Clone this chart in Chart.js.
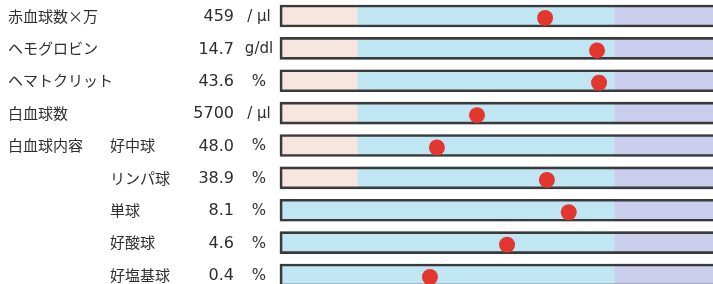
<!DOCTYPE html>
<html><head><meta charset="utf-8">
<script src="https://cdn.jsdelivr.net/npm/chart.js@4/dist/chart.umd.min.js"></script>
<style>html,body{margin:0;padding:0;background:#fff;overflow:hidden;}#wrap{width:713px;height:284px;position:relative;}</style>
</head><body><div id="wrap"><canvas id="c"></canvas></div>
<script>
// ---- data ----
const itemNames = ['赤血球数×万','ヘモグロビン','ヘマトクリット','白血球数','白血球内容','','','',''];
const subNames  = ['','','','','好中球','リンパ球','単球','好酸球','好塩基球'];
const valueTexts = ['459','14.7','43.6','5700','48.0','38.9','8.1','4.6','0.4'];
const unitTexts = ['/ μl','g/dl','%','/ μl','%','%','%','%','%'];
// position of each result on a scale where the reference (normal) range is 0..1
const positions = [0.728,0.93,0.938,0.463,0.307,0.735,0.82,0.58,0.28];
// zones: low (pink), normal (blue), high (purple)
const lowBands    = [[-0.3035,0],[-0.3035,0],[-0.3035,0],[-0.3035,0],[-0.3035,0],[-0.3035,0],null,null,null];
const normalBands = [[0,1],[0,1],[0,1],[0,1],[0,1],[0,1],[-0.3035,1],[-0.3035,1],[-0.3035,1]];
const highBands   = [[1,1.6],[1,1.6],[1,1.6],[1,1.6],[1,1.6],[1,1.6],[1,1.6],[1,1.6],[1,1.6]];
const frameBands  = [[-0.3035,1.6],[-0.3035,1.6],[-0.3035,1.6],[-0.3035,1.6],[-0.3035,1.6],[-0.3035,1.6],[-0.3035,1.6],[-0.3035,1.6],[-0.3035,1.6]];

const rows = valueTexts.map((_, i) => i);
const toBars = bands => bands.map((b, i) => b ? {x: b, y: i} : null).filter(d => d);

const textPlugin = {
  id: 'rowText',
  afterDraw(chart) {
    const ctx = chart.ctx, ys = chart.scales.y;
    ctx.save();
    ctx.fillStyle = '#2e2e2e';
    ctx.textBaseline = 'middle';
    rows.forEach(i => {
      const y = ys.getPixelForValue(i);
      ctx.font = '15px "Noto Sans CJK JP", sans-serif';
      ctx.textAlign = 'left';
      if (itemNames[i]) ctx.fillText(itemNames[i], 8, y);
      if (subNames[i]) ctx.fillText(subNames[i], 110, y);
      ctx.font = '16px "DejaVu Sans", "Noto Sans CJK JP", sans-serif';
      ctx.textAlign = 'right';
      ctx.fillText(valueTexts[i], 234, y + 1);
      ctx.font = '15px "DejaVu Sans", "Noto Sans CJK JP", sans-serif';
      ctx.textAlign = 'center';
      ctx.fillText(unitTexts[i], 259, y + 1);
    });
    ctx.restore();
  }
};

const barCommon = {type: 'bar', grouped: false, barThickness: 22, borderWidth: 0, yAxisID: 'y'};

new Chart(document.getElementById('c'), {
  type: 'bar',
  data: {
    datasets: [
      Object.assign({}, barCommon, {data: toBars(lowBands), backgroundColor: '#f6e6df', order: 5}),
      Object.assign({}, barCommon, {data: toBars(normalBands), backgroundColor: '#c1e6f3', order: 4}),
      Object.assign({}, barCommon, {data: toBars(highBands), backgroundColor: '#cacdeb', order: 3}),
      Object.assign({}, barCommon, {data: toBars(frameBands), backgroundColor: 'rgba(0,0,0,0)', borderColor: '#3a3a3a', borderWidth: 2, borderSkipped: false, order: 2}),
      {type: 'scatter', yAxisID: 'y2', data: positions.map((p, i) => ({x: p, y: i})),
       backgroundColor: '#e2362f', borderColor: '#e2362f', borderWidth: 0, pointRadius: 8, pointHoverRadius: 8, order: 1}
    ]
  },
  options: {
    indexAxis: 'y',
    responsive: true,
    maintainAspectRatio: false,
    animation: false,
    layout: {autoPadding: false, padding: {left: 270, right: 0, top: 0, bottom: 0}},
    plugins: {legend: {display: false}, tooltip: {enabled: false}},
    scales: {
      x: {type: 'linear', offset: false, min: -0.3424, max: 1.3813, display: false},
      y: {type: 'linear', offset: false, reverse: true, min: -0.494, max: 8.278, display: false},
      y2: {type: 'linear', offset: false, reverse: true, min: -0.556, max: 8.216, display: false}
    }
  },
  plugins: [textPlugin]
});
</script></body></html>
